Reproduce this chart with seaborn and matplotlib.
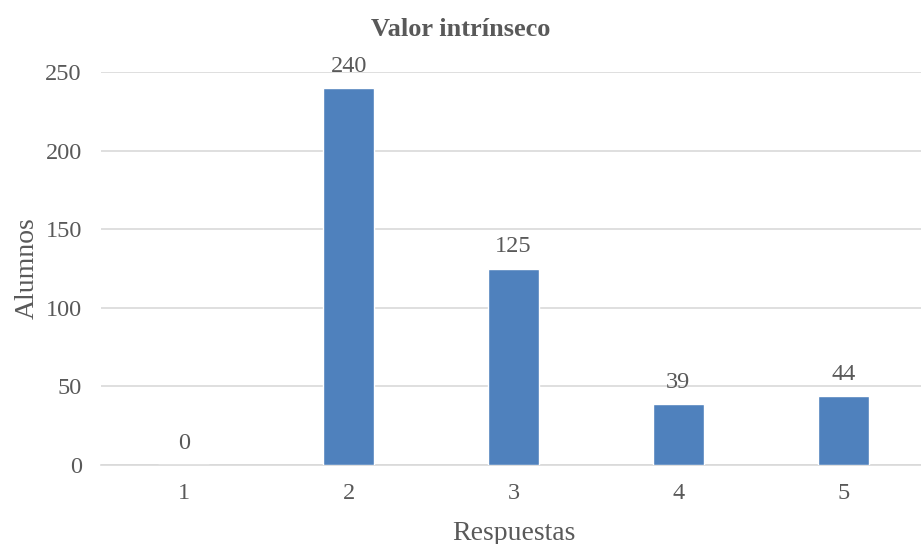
import pandas as pd
import matplotlib.pyplot as plt
import seaborn as sns

# data
respuestas = ["1", "2", "3", "4", "5"]
alumnos = [0, 240, 125, 39, 44]

df = pd.DataFrame({"Respuestas": respuestas, "Alumnos": alumnos})

# style
sns.set_style("white")
plt.rcParams['font.family'] = ['Liberation Serif', 'DejaVu Serif']
grey = "#595959"

fig = plt.figure(figsize=(9.21, 5.44), dpi=100)
ax = fig.add_axes([0.11, 0.1452, 0.895, 0.7224])

sns.barplot(x="Respuestas", y="Alumnos", data=df, color="#4F81BD",
            width=0.31, saturation=1, ax=ax, zorder=3)

# value labels
for c in ax.containers:
    ax.bar_label(c, labels=[str(v) for v in alumnos], padding=8,
                 fontsize=17.5, color=grey)

ax.set_ylim(0, 250)
ax.set_xlim(-0.5, 4.5)
ax.set_yticks([0, 50, 100, 150, 200, 250])
ax.yaxis.grid(True, color="#D9D9D9", linewidth=1.2, zorder=0)
ax.set_axisbelow(True)

for s in ["top", "right", "left"]:
    ax.spines[s].set_visible(False)
ax.spines["bottom"].set_color("#D9D9D9")
ax.spines["bottom"].set_linewidth(1.2)

ax.tick_params(axis="both", length=0, labelsize=17.5, labelcolor=grey)
ax.tick_params(axis="x", pad=13)
ax.tick_params(axis="y", pad=14)

ax.set_xlabel("Respuestas", fontsize=20, color=grey, labelpad=12)
ax.set_ylabel("Alumnos", fontsize=20, color=grey, labelpad=4)
# title is centred on the whole figure, not on the plot area
ax.set_title("Valor intrínseco", fontsize=19, fontweight="bold", color=grey,
             pad=26, x=0.436)

plt.savefig("out.png", dpi=100)
